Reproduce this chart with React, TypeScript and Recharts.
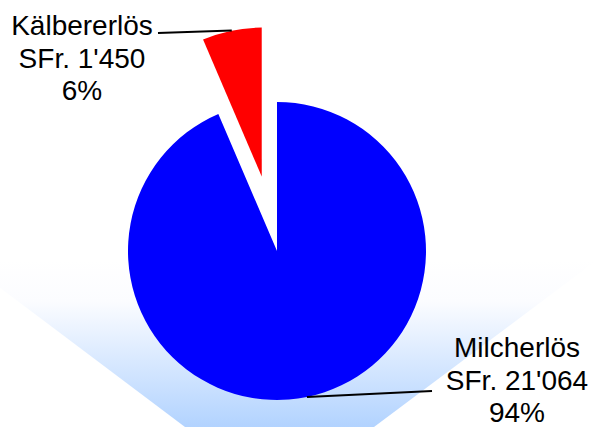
import React from 'react';
import { PieChart, Pie, Cell } from 'recharts';

const categories = ['Kälbererlös', 'Milcherlös'];
const amounts = [1450, 21064];
const sliceColors = ['#ff0000', '#0000ff'];

const data = categories.map((name, i) => ({ name, value: amounts[i] }));

const W = 595;
const H = 427;
const CX = 277;
const CY = 251;
const R = 149;
const EXPLODE = 76;

// the small slice is pulled out along its middle angle
const total = amounts.reduce((a, b) => a + b, 0);
const midRed = ((90 + (360 * amounts[0]) / total / 2) * Math.PI) / 180;
const redCx = CX + EXPLODE * Math.cos(midRed);
const redCy = CY - EXPLODE * Math.sin(midRed);

const labelLayout: Record<string, { lx: number; ly: number; tx: number; ty: number }> = {
  'Kälbererlös': { lx: 158, ly: 33, tx: 82, ty: 35 },
  Milcherlös: { lx: 432, ly: 391, tx: 517, ty: 357 },
};

const fmt = (v: number) => String(v).replace(/\B(?=(\d{3})+(?!\d))/g, "'");

const makeLabel = (visible: string) => (props: any) => {
  const { cx, cy, midAngle, outerRadius, name, value, percent } = props;
  if (name !== visible) return null;
  const rad = (midAngle * Math.PI) / 180;
  const ox = cx + outerRadius * Math.cos(rad);
  const oy = cy - outerRadius * Math.sin(rad);
  const l = labelLayout[name];
  return (
    <g>
      <line x1={ox} y1={oy} x2={l.lx} y2={l.ly} stroke="#000" strokeWidth={2} />
      <text
        x={l.tx}
        y={l.ty}
        textAnchor="middle"
        fontFamily="'Liberation Sans', Arial, sans-serif"
        fontSize={28}
        fill="#000"
      >
        <tspan x={l.tx}>{name}</tspan>
        <tspan x={l.tx} dy={32.5}>{`SFr. ${fmt(value)}`}</tspan>
        <tspan x={l.tx} dy={32.5}>{`${Math.round(percent * 100)}%`}</tspan>
      </text>
    </g>
  );
};

export default function App() {
  return (
    <div style={{ position: 'absolute', left: 0, top: 0, width: W, height: H, background: '#fff' }}>
      <svg width={W} height={H} style={{ position: 'absolute', left: 0, top: 0 }}>
        <defs>
          <linearGradient id="floor" x1="0" y1="0" x2="0" y2="1">
            <stop offset="0" stopColor="#ffffff" />
            <stop offset="0.25" stopColor="#fbfcff" />
            <stop offset="1" stopColor="#b2d3ff" />
          </linearGradient>
        </defs>
        <polygon points="-37,260 597,260 374,427 185,427" fill="url(#floor)" />
      </svg>
      <div style={{ position: 'absolute', left: 0, top: 0 }}>
        <PieChart width={W} height={H} margin={{ top: 0, right: 0, bottom: 0, left: 0 }}>
          <Pie
            data={data}
            dataKey="value"
            nameKey="name"
            cx={CX}
            cy={CY}
            outerRadius={R}
            startAngle={90}
            endAngle={450}
            stroke="none"
            label={makeLabel('Milcherlös')}
            labelLine={false}
            isAnimationActive={false}
          >
            {data.map((d, i) => (
              <Cell key={d.name} fill={d.name === 'Milcherlös' ? sliceColors[i] : 'transparent'} />
            ))}
          </Pie>
          <Pie
            data={data}
            dataKey="value"
            nameKey="name"
            cx={redCx}
            cy={redCy}
            outerRadius={R}
            startAngle={90}
            endAngle={450}
            stroke="none"
            label={makeLabel('Kälbererlös')}
            labelLine={false}
            isAnimationActive={false}
          >
            {data.map((d, i) => (
              <Cell key={d.name} fill={d.name === 'Kälbererlös' ? sliceColors[i] : 'transparent'} />
            ))}
          </Pie>
        </PieChart>
      </div>
    </div>
  );
}
